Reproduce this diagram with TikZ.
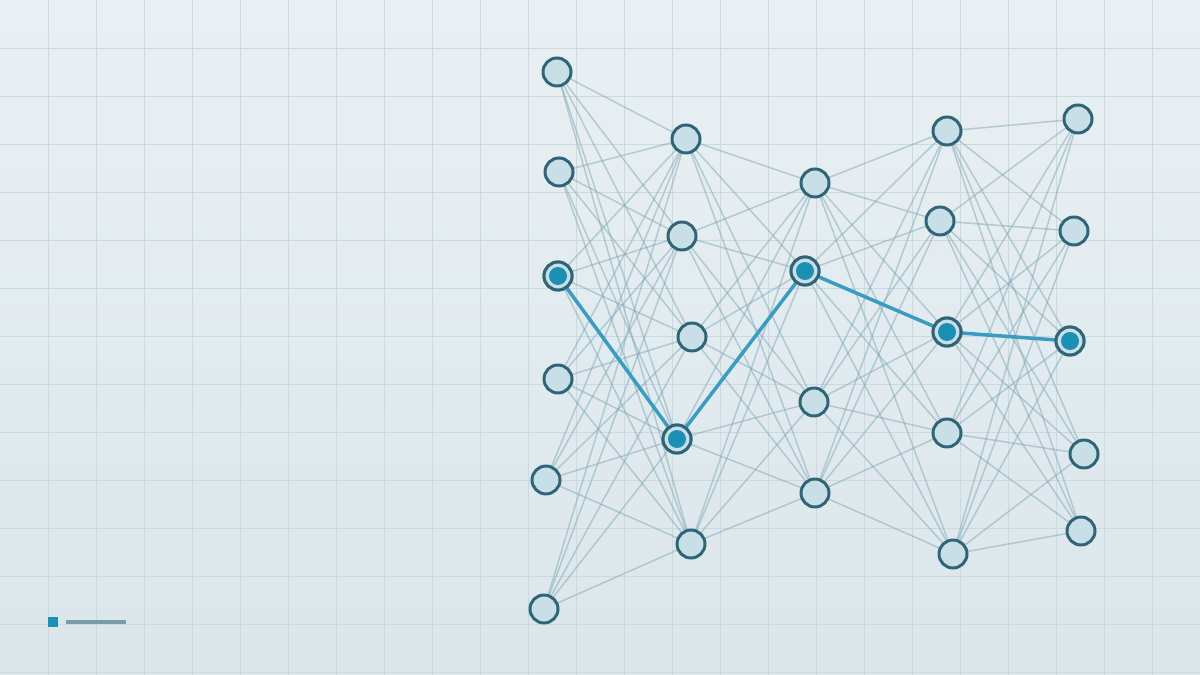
\documentclass[tikz,border=0pt]{standalone}
\definecolor{bgtop}{HTML}{E9F0F3}
\definecolor{bgbot}{HTML}{DBE6EB}
\definecolor{gridc}{HTML}{CBDAE0}
\definecolor{wire}{HTML}{7FA8B6}
\definecolor{ring}{HTML}{2F6577}
\definecolor{cell}{HTML}{C9DFE7}
\definecolor{hotc}{HTML}{1A90B4}
\definecolor{routec}{HTML}{3A9CC0}
\definecolor{keyline}{HTML}{7A9CA7}
\pgfdeclarelayer{back}
\pgfdeclarelayer{wires}
\pgfsetlayers{back,wires,main}
\begin{document}
\begin{tikzpicture}[x=0.02cm,y=-0.02cm,
  unit/.style={circle,draw=ring,fill=cell,line width=1.7pt,minimum size=0.56cm,inner sep=0pt},
  hot/.style={path picture={\fill[hotc] (path picture bounding box.center) circle (0.18cm);}},
  link/.style={draw=wire,line width=0.85pt,opacity=0.5},
  route/.style={draw=routec,line width=2pt,line cap=round},
  gridline/.style={draw=gridc,line width=0.55pt}]
  \useasboundingbox (0,0) rectangle (1200,675);
  \begin{pgfonlayer}{back}
    \shade[top color=bgtop,bottom color=bgbot] (0,0) rectangle (1200,675);
    \foreach \x in {48,96,...,1152} \draw[gridline] (\x,0) -- (\x,675);
    \foreach \y in {48,96,...,672} \draw[gridline] (0,\y) -- (1200,\y);
  \end{pgfonlayer}

  % layers of units
  \foreach \p [count=\i] in {{557,72},{559,172},{558,276},{558,379},{546,480},{544,609}}
    \node[unit] (a\i) at (\p) {};
  \foreach \p [count=\i] in {{686,139},{682,236},{692,337},{677,439},{691,544}}
    \node[unit] (b\i) at (\p) {};
  \foreach \p [count=\i] in {{815,183},{805,271},{814,402},{815,493}}
    \node[unit] (c\i) at (\p) {};
  \foreach \p [count=\i] in {{947,131},{940,221},{947,332},{947,433},{953,554}}
    \node[unit] (d\i) at (\p) {};
  \foreach \p [count=\i] in {{1078,119},{1074,231},{1070,341},{1084,454},{1081,531}}
    \node[unit] (e\i) at (\p) {};
  \foreach \n in {a3,b4,c2,d3,e3} \node[unit,hot] at (\n) {};

  \begin{pgfonlayer}{wires}
    \foreach \i in {1,...,6} \foreach \j in {1,...,5} \draw[link] (a\i) -- (b\j);
    \foreach \i in {1,...,5} \foreach \j in {1,...,4} \draw[link] (b\i) -- (c\j);
    \foreach \i in {1,...,4} \foreach \j in {1,...,5} \draw[link] (c\i) -- (d\j);
    \foreach \i in {1,...,5} \foreach \j in {1,...,5} \draw[link] (d\i) -- (e\j);
    \draw[route] (a3) -- (b4) -- (c2) -- (d3) -- (e3);
  \end{pgfonlayer}

  % key
  \fill[hotc] (48,617) rectangle (58,627);
  \draw[keyline,line width=2.3pt] (66,622) -- (126,622);
\end{tikzpicture}
\end{document}
